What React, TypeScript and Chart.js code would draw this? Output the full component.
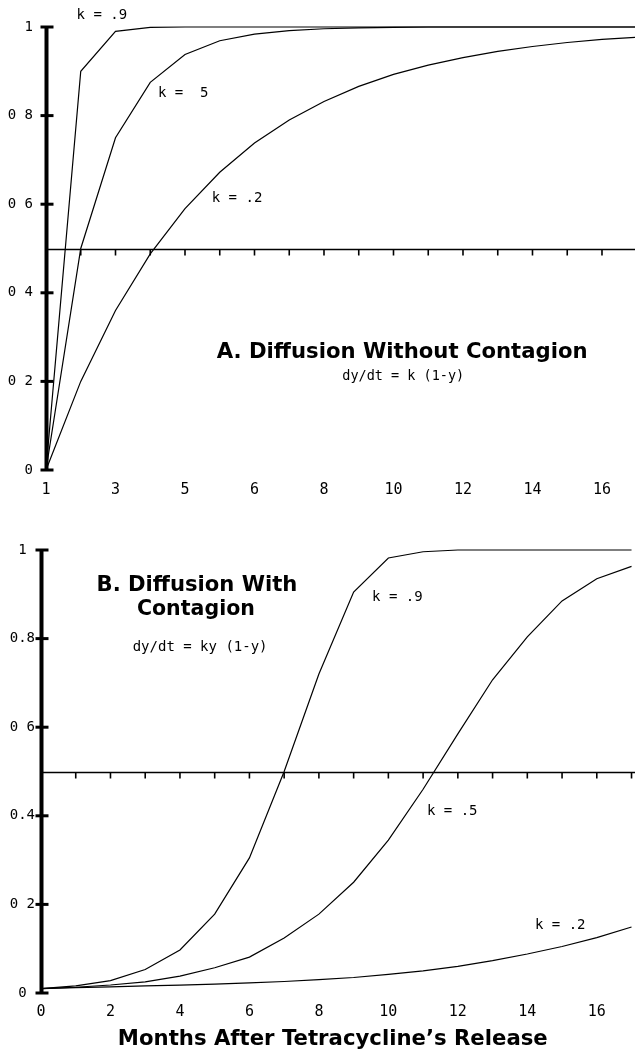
import React, { useEffect, useRef } from "react";
import { Chart, registerables } from "chart.js";

Chart.register(...registerables);

// ---------- data ----------
const months = [0, 1, 2, 3, 4, 5, 6, 7, 8, 9, 10, 11, 12, 13, 14, 15, 16, 17];

// A. Diffusion without contagion
const topK9 = [0, 0.9, 0.99, 0.999, 1, 1, 1, 1, 1, 1, 1, 1, 1, 1, 1, 1, 1, 1];
const topK5 = [0, 0.5, 0.75, 0.875, 0.938, 0.969, 0.984, 0.992, 0.996, 0.998, 0.999, 1, 1, 1, 1, 1, 1, 1];
const topK2 = [0, 0.2, 0.36, 0.488, 0.59, 0.672, 0.738, 0.79, 0.832, 0.866, 0.893, 0.914, 0.931, 0.945, 0.956, 0.965, 0.972, 0.977];

// B. Diffusion with contagion
const botK9 = [0.01, 0.016, 0.028, 0.053, 0.097, 0.178, 0.305, 0.5, 0.72, 0.905, 0.982, 0.996, 1, 1, 1, 1, 1, 1];
const botK5 = [0.01, 0.013, 0.018, 0.025, 0.038, 0.057, 0.081, 0.124, 0.178, 0.25, 0.345, 0.46, 0.585, 0.707, 0.804, 0.885, 0.935, 0.963];
const botK2 = [0.01, 0.012, 0.014, 0.016, 0.018, 0.02, 0.023, 0.026, 0.03, 0.035, 0.042, 0.05, 0.06, 0.073, 0.088, 0.105, 0.125, 0.149];

// ticks
const yTickValues = [0, 0.2, 0.4, 0.6, 0.8, 1];
const topYTickLabels = ["0", "0 2", "0 4", "0 6", "0 8", "1"];
const botYTickLabels = ["0 ", "0 2", "0.4", "0 6", "0.8", "1 "];
const xTickMonths = [0, 2, 4, 6, 8, 10, 12, 14, 16];
const topXTickLabels = ["1", "3", "5", "6", "8", "10", "12", "14", "16"];
const botXTickLabels = ["0", "2", "4", "6", "8", "10", "12", "14", "16"];
const midlineValue = 0.5;

const topCurveLabels = ["k = .9", "k =  5", "k = .2"];
const botCurveLabels = ["k = .9", "k = .5", "k = .2"];
const topTitle = ["A. Diffusion Without Contagion"];
const topEquation = "dy/dt = k (1-y)";
const botTitle = ["B. Diffusion With", "Contagion"];
const botEquation = "dy/dt = ky (1-y)";
const xAxisTitle = "Months After Tetracycline\u2019s Release";

// ---------- styling / layout ----------
const MONO = "'DejaVu Sans Mono', 'Liberation Mono', monospace";
const BOLD = "'DejaVu Sans', 'Liberation Sans', sans-serif";

type TextItem = {
  text: string;
  x: number; // in months
  y: number; // in value units
  kind: "mono" | "bold";
  size?: number;
  width?: number; // target width for bold text
  align: CanvasTextAlign;
};

type PanelCfg = {
  width: number;
  height: number;
  top: number;
  padTop: number;
  axisWidth: number;
  xAxisHeight: number;
  xMax: number;
  series: number[][];
  yLabels: string[];
  xLabels: string[];
  yPad: number;
  xPad: number;
  texts: TextItem[];
};

const topPanel: PanelCfg = {
  width: 635,
  height: 505,
  top: 0,
  padTop: 27,
  axisWidth: 46,
  xAxisHeight: 35,
  xMax: 16.95,
  series: [topK9, topK5, topK2],
  yLabels: topYTickLabels,
  xLabels: topXTickLabels,
  yPad: 13,
  xPad: 11,
  texts: [
    { text: topCurveLabels[0], x: 0.88, y: 1.027, kind: "mono", size: 14, align: "left" },
    { text: topCurveLabels[1], x: 3.22, y: 0.851, kind: "mono", size: 14, align: "left" },
    { text: topCurveLabels[2], x: 4.77, y: 0.614, kind: "mono", size: 14, align: "left" },
    { text: topTitle[0], x: 10.25, y: 0.266, kind: "bold", width: 371, align: "center" },
    { text: topEquation, x: 10.28, y: 0.21, kind: "mono", size: 13.5, align: "center" },
  ],
};

const botPanel: PanelCfg = {
  width: 635,
  height: 534,
  top: 520,
  padTop: 30,
  axisWidth: 41,
  xAxisHeight: 61,
  xMax: 17.1,
  series: [botK9, botK5, botK2],
  yLabels: botYTickLabels,
  xLabels: botXTickLabels,
  yPad: 6,
  xPad: 10,
  texts: [
    { text: botCurveLabels[0], x: 9.53, y: 0.892, kind: "mono", size: 14, align: "left" },
    { text: botCurveLabels[1], x: 11.11, y: 0.411, kind: "mono", size: 14, align: "left" },
    { text: botCurveLabels[2], x: 14.22, y: 0.153, kind: "mono", size: 14, align: "left" },
    { text: botTitle[0], x: 4.49, y: 0.919, kind: "bold", width: 201, align: "center" },
    { text: botTitle[1], x: 4.46, y: 0.865, kind: "bold", width: 118, align: "center" },
    { text: botEquation, x: 4.58, y: 0.781, kind: "mono", size: 14, align: "center" },
    { text: xAxisTitle, x: 8.4, y: -0.106, kind: "bold", width: 430, align: "center" },
  ],
};

function makeDecor(cfg: PanelCfg) {
  return {
    id: "decor",
    afterDraw(chart: any) {
      const ctx: CanvasRenderingContext2D = chart.ctx;
      const xs = chart.scales.x;
      const ys = chart.scales.y;
      const left = chart.chartArea.left;
      const right = chart.chartArea.right;
      ctx.save();
      ctx.strokeStyle = "#000";
      ctx.fillStyle = "#000";

      // thick y axis
      const y0 = ys.getPixelForValue(0);
      const y1 = ys.getPixelForValue(1);
      const ax = left + 0.5;
      ctx.lineWidth = 4;
      ctx.beginPath();
      ctx.moveTo(ax, y1 - 1);
      ctx.lineTo(ax, y0 + 1);
      ctx.stroke();

      // y tick marks
      ctx.lineWidth = 3;
      yTickValues.forEach((v) => {
        const py = ys.getPixelForValue(v);
        ctx.beginPath();
        ctx.moveTo(ax - 6, py);
        ctx.lineTo(ax + 7, py);
        ctx.stroke();
      });

      // midline with month ticks
      const my = Math.round(ys.getPixelForValue(midlineValue)) + 0.5;
      ctx.lineWidth = 1.6;
      ctx.beginPath();
      ctx.moveTo(ax, my);
      ctx.lineTo(right, my);
      ctx.stroke();
      months.forEach((m) => {
        if (m === 0 || m > cfg.xMax) return;
        const px = xs.getPixelForValue(m);
        ctx.beginPath();
        ctx.moveTo(px, my);
        ctx.lineTo(px, my + 6);
        ctx.stroke();
      });

      // texts
      ctx.textBaseline = "middle";
      cfg.texts.forEach((t) => {
        const px = xs.getPixelForValue(t.x);
        const py = ys.getPixelForValue(t.y);
        if (t.kind === "bold") {
          ctx.font = `bold 100px ${BOLD}`;
          const w = ctx.measureText(t.text).width;
          const size = (100 * (t.width || w)) / w;
          ctx.font = `bold ${size.toFixed(2)}px ${BOLD}`;
        } else {
          ctx.font = `${t.size || 14}px ${MONO}`;
        }
        ctx.textAlign = t.align;
        ctx.fillText(t.text, px, py);
      });
      ctx.restore();
    },
  };
}

function Panel({ cfg }: { cfg: PanelCfg }) {
  const ref = useRef<HTMLCanvasElement | null>(null);
  useEffect(() => {
    if (!ref.current) return;
    const chart = new Chart(ref.current, {
      type: "line",
      data: {
        datasets: cfg.series.map((s) => ({
          data: months.map((m, i) => ({ x: m, y: s[i] })),
          borderColor: "#000",
          borderWidth: 1.2,
          pointRadius: 0,
          tension: 0,
          fill: false,
          clip: false as any,
        })),
      },
      options: {
        animation: false,
        responsive: false,
        devicePixelRatio: 1,
        layout: { padding: { top: cfg.padTop, left: 0, right: 0, bottom: 0 } },
        plugins: {
          legend: { display: false },
          tooltip: { enabled: false },
          title: { display: false },
        },
        scales: {
          x: {
            type: "linear",
            min: 0,
            max: cfg.xMax,
            grid: { display: false, drawTicks: false },
            border: { display: false },
            ticks: {
              color: "#000",
              font: { family: MONO, size: 15 },
              padding: cfg.xPad,
              maxRotation: 0,
              autoSkip: false,
              callback: (v: any) => {
                const i = xTickMonths.indexOf(Number(v));
                return i >= 0 ? cfg.xLabels[i] : "";
              },
            },
            afterBuildTicks: (s: any) => {
              s.ticks = xTickMonths.map((v) => ({ value: v }));
            },
            afterFit: (s: any) => {
              s.height = cfg.xAxisHeight;
            },
          },
          y: {
            type: "linear",
            min: 0,
            max: 1,
            grid: { display: false, drawTicks: false },
            border: { display: false },
            ticks: {
              color: "#000",
              font: { family: MONO, size: 14 },
              padding: cfg.yPad,
              callback: (v: any) => {
                const i = yTickValues.findIndex((t) => Math.abs(t - Number(v)) < 1e-6);
                return i >= 0 ? cfg.yLabels[i] : "";
              },
            },
            afterBuildTicks: (s: any) => {
              s.ticks = yTickValues.map((v) => ({ value: v }));
            },
            afterFit: (s: any) => {
              s.width = cfg.axisWidth;
            },
          },
        },
      } as any,
      plugins: [makeDecor(cfg)],
    });
    return () => chart.destroy();
  }, [cfg]);
  return (
    <canvas
      ref={ref}
      width={cfg.width}
      height={cfg.height}
      style={{ position: "absolute", left: 0, top: cfg.top, width: cfg.width, height: cfg.height, display: "block" }}
    />
  );
}

export default function App() {
  return (
    <div style={{ position: "absolute", left: 0, top: 0, width: 635, height: 1054, background: "#fff", overflow: "hidden" }}>
      <Panel cfg={topPanel} />
      <Panel cfg={botPanel} />
    </div>
  );
}
